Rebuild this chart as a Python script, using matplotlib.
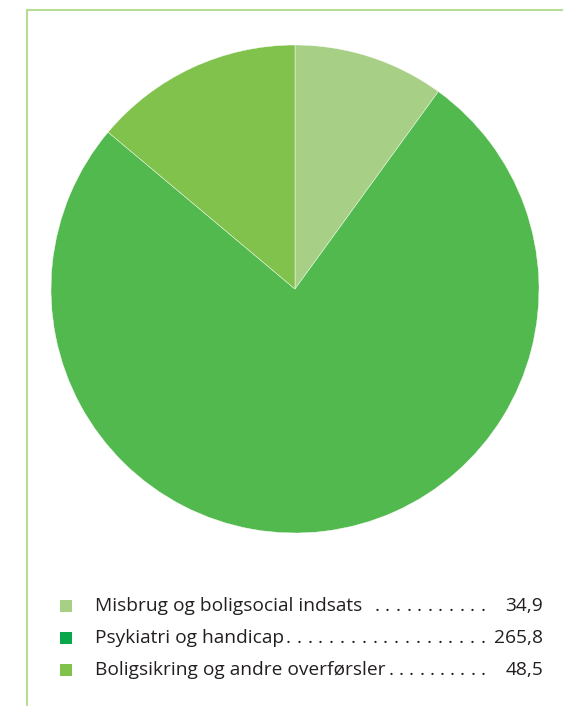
import matplotlib.pyplot as plt
import numpy as np
from matplotlib.lines import Line2D
from matplotlib.patches import Rectangle

labels = ["Misbrug og boligsocial indsats", "Psykiatri og handicap",
          "Boligsikring og andre overførsler"]
values = [34.9, 265.8, 48.5]
value_labels = ["34,9", "265,8", "48,5"]
dot_counts = [11, 19, 10]

slice_colors = ["#a8cf86", "#52b94f", "#80c24b"]
legend_colors = ["#a8cf86", "#0aa64a", "#80c24b"]

W, H = 563, 706
fig = plt.figure(figsize=(W / 100, H / 100), dpi=100)
plt.rcParams["font.family"] = ["Open Sans", "DejaVu Sans"]

# frame lines (top and left)
fig.add_artist(Line2D([27 / W, 1], [1 - 10 / H, 1 - 10 / H], color="#b7dc93", lw=1.5))
fig.add_artist(Line2D([27 / W, 27 / W], [0, 1 - 10 / H], color="#b7dc93", lw=1.5))

cx, cy, r = 295, 289, 244
ax = fig.add_axes([(cx - r) / W, 1 - (cy + r) / H, 2 * r / W, 2 * r / H])
ax.pie(values, colors=slice_colors, startangle=90, counterclock=False,
       radius=1, wedgeprops=dict(edgecolor="white", linewidth=0.3))
ax.set_xlim(-1, 1)
ax.set_ylim(-1, 1)
ax.set_aspect("equal")
ax.axis("off")

# legend with dotted leaders
txt = dict(fontsize=13.8, color="#231f20", va="center")
rows_y = [606, 638, 670]
dot_start = [377, 288, 391]
for lab, val, n, col, y, x0 in zip(labels, value_labels, dot_counts,
                                   legend_colors, rows_y, dot_start):
    yf = 1 - y / H
    fig.add_artist(Rectangle((60 / W, 1 - (y + 6) / H), 12 / W, 12 / H,
                             transform=fig.transFigure, color=col, lw=0))
    fig.text(95 / W, yf, lab, ha="left", **txt)
    for xd in np.linspace(x0, 483, n):
        fig.text(xd / W, yf, ".", ha="center", **txt)
    fig.text(543 / W, yf, val, ha="right", **txt)

fig.savefig("out.png", dpi=100)
